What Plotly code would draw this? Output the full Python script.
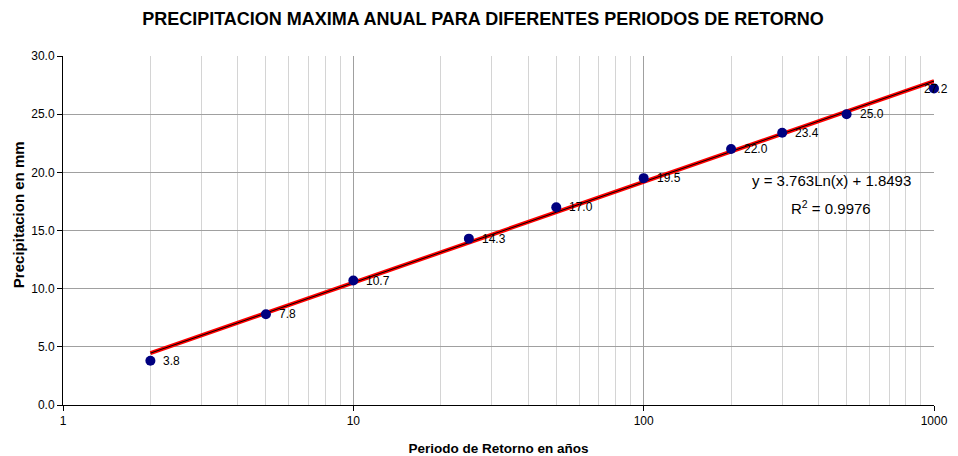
import plotly.graph_objects as go
import numpy as np

periods = [2, 5, 10, 25, 50, 100, 200, 300, 500, 1000]
precip = [3.8, 7.8, 10.7, 14.3, 17.0, 19.5, 22.0, 23.4, 25.0, 27.2]
trend_a = 3.763
trend_b = 1.8493
trend_x = [2, 1000]
trend_y = [trend_a * np.log(x) + trend_b for x in trend_x]
y_ticks = [0, 5, 10, 15, 20, 25, 30]
x_ticks = [1, 10, 100, 1000]
minor_vals = [m * d for d in (1, 10, 100) for m in range(2, 10)]

FONT = "Arial, Liberation Sans, sans-serif"

fig = go.Figure()
fig.add_trace(go.Scatter(x=trend_x, y=trend_y, mode="lines",
                         line=dict(color="#ff0000", width=4), hoverinfo="skip"))
fig.add_trace(go.Scatter(x=trend_x, y=trend_y, mode="lines",
                         line=dict(color="#000000", width=1), hoverinfo="skip"))
fig.add_trace(go.Scatter(x=periods, y=precip, mode="markers",
                         marker=dict(color="#000080", size=10),
                         cliponaxis=False))

# data labels (last one pulled back inside the chart, like the reference)
for i, (px_, py_) in enumerate(zip(periods, precip)):
    last = i == len(periods) - 1
    fig.add_annotation(x=np.log10(px_), y=py_, xref="x", yref="y",
                       text=f"{py_:.1f}", showarrow=False,
                       xanchor=("right" if last else "left"), yanchor="middle",
                       xshift=(16 if last else 11),
                       font=dict(family=FONT, size=12, color="#000000"))

fig.add_annotation(x=0.882, y=0.642, xref="paper", yref="paper",
                   xanchor="center", yanchor="middle",
                   text="y = 3.763Ln(x) + 1.8493", showarrow=False,
                   font=dict(family=FONT, size=15, color="#000000"))
fig.add_annotation(x=0.882, y=0.566, xref="paper", yref="paper",
                   xanchor="center", yanchor="middle",
                   text="R<sup>2</sup> = 0.9976", showarrow=False,
                   font=dict(family=FONT, size=15, color="#000000"))
fig.add_annotation(x=0, y=0.544, xref="paper", yref="paper",
                   xanchor="center", yanchor="middle", xshift=-45,
                   text="<b>Precipitacion en mm</b>", showarrow=False, textangle=-90,
                   font=dict(family=FONT, size=15, color="#000000"))

fig.update_layout(
    width=950, height=448,
    margin=dict(l=55, r=24, t=48, b=51, autoexpand=False),
    paper_bgcolor="white", plot_bgcolor="white",
    showlegend=False,
    title=dict(text="<b>PRECIPITACION MAXIMA ANUAL PARA DIFERENTES PERIODOS DE RETORNO</b>",
               x=0.5, xanchor="center", y=1 - 11 / 448, yanchor="middle",
               font=dict(family=FONT, size=18, color="#000000")),
    font=dict(family=FONT, size=12, color="#000000"),
)
fig.update_xaxes(type="log", range=[0, 3], automargin=False,
                 tickmode="array", tickvals=x_ticks, ticktext=[str(v) for v in x_ticks],
                 ticks="outside", ticklen=5, tickcolor="#000000",
                 showgrid=True, gridcolor="#a0a0a0", gridwidth=1,
                 showline=True, linecolor="#000000", linewidth=1,
                 zeroline=False,
                 minor=dict(tickmode="array", tickvals=minor_vals, showgrid=True,
                            gridcolor="#d4d4d4", gridwidth=1, ticks=""),
                 title=dict(text="<b>Periodo de Retorno en años</b>", standoff=16,
                            font=dict(family=FONT, size=13.5)),
                 tickfont=dict(family=FONT, size=12))
fig.update_yaxes(range=[0, 30], automargin=False,
                 tickmode="array", tickvals=y_ticks,
                 ticktext=[f"{v:.1f}" for v in y_ticks],
                 ticks="outside", ticklen=5, tickcolor="#000000",
                 showgrid=True, gridcolor="#a0a0a0", gridwidth=1,
                 showline=True, linecolor="#000000", linewidth=1,
                 zeroline=False,
                 tickfont=dict(family=FONT, size=12))

fig.write_html("out.html")
